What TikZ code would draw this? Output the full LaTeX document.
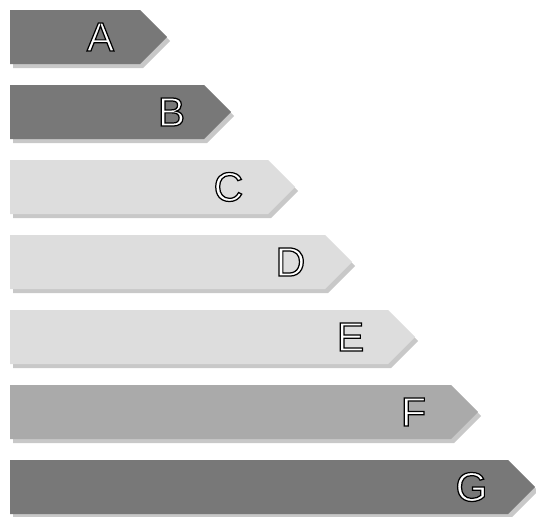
\documentclass[tikz,border=0pt]{standalone}
\usepackage{fontspec}
\setmainfont{Liberation Sans}
\newfontfamily\bandfont[FakeBold=3]{Liberation Sans}
\usetikzlibrary{shapes.symbols,shadows,positioning}
\definecolor{DarkBand}{RGB}{120, 120, 120}
\definecolor{MidBand}{RGB}{170, 170, 170}
\definecolor{PaleBand}{RGB}{221, 221, 221}
\definecolor{ShadowGray}{RGB}{200, 200, 200}
% white letter, black outline
\newcommand{\outlined}[1]{\special{pdf:code 0 G}#1}

\begin{document}
\begin{tikzpicture}[
    x=1pt, y=-1pt,
    band/.style={signal, signal to=east, signal pointer angle=90, anchor=west,
      minimum height=54pt, inner sep=0pt, draw=none,
      drop shadow={shadow xshift=3pt, shadow yshift=-4pt, fill=ShadowGray, opacity=1}},
    letter/.style={font=\bandfont\fontsize{41}{41}\selectfont, text=white, inner sep=0pt}
  ]
    \useasboundingbox (0,0) rectangle (536,517);

    % rating bands
    \node[band, fill=DarkBand, minimum width=157pt] (bandA) at (10,37) {};
    \node[band, fill=DarkBand, minimum width=221pt] (bandB) at (10,112) {};
    \node[band, fill=PaleBand, minimum width=285pt] (bandC) at (10,187) {};
    \node[band, fill=PaleBand, minimum width=342pt] (bandD) at (10,262) {};
    \node[band, fill=PaleBand, minimum width=405pt] (bandE) at (10,337) {};
    \node[band, fill=MidBand, minimum width=468pt] (bandF) at (10,412) {};
    \node[band, fill=DarkBand, minimum width=525pt] (bandG) at (10,487) {};

    % class letters
    \node[letter] (labA) at ([xshift=-67pt]bandA.east) {\outlined{A}};
    \node[letter] (labB) at ([xshift=-60pt]bandB.east) {\outlined{B}};
    \node[letter] (labC) at ([xshift=-67pt]bandC.east) {\outlined{C}};
    \node[letter] (labD) at ([xshift=-62pt]bandD.east) {\outlined{D}};
    \node[letter] (labE) at ([xshift=-65pt]bandE.east) {\outlined{E}};
    \node[letter] (labF) at ([xshift=-65pt]bandF.east) {\outlined{F}};
    \node[letter] (labG) at ([xshift=-64pt]bandG.east) {\outlined{G}};
  \end{tikzpicture}
\end{document}
